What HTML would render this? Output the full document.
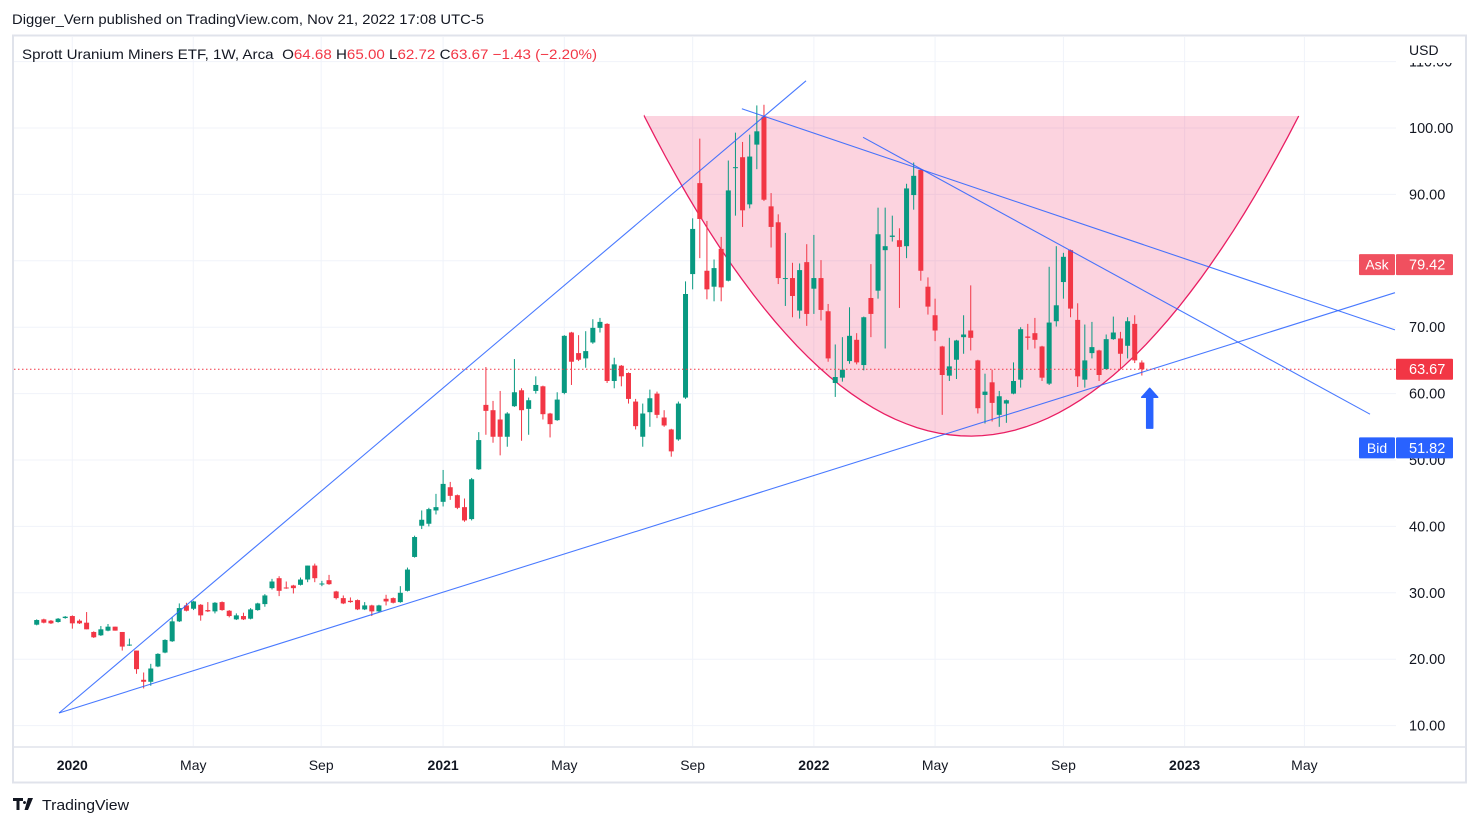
<!DOCTYPE html>
<html><head><meta charset="utf-8"><style>
body{margin:0;background:#fff;}
svg{display:block;font-family:"Liberation Sans",sans-serif;}
</style></head><body>
<svg id="c" width="1479" height="826" viewBox="0 0 1479 826">
<text x="12" y="24" font-size="14" fill="#131722" textLength="472" lengthAdjust="spacingAndGlyphs">Digger_Vern published on TradingView.com, Nov 21, 2022 17:08 UTC-5</text>
<rect x="13" y="35.5" width="1453" height="747" fill="none" stroke="#e0e3eb" stroke-width="2"/>
<line x1="13" y1="747" x2="1466" y2="747" stroke="#e0e3eb" stroke-width="1.5"/>
<g id="grid"></g>
<g id="shapes"></g>
<g id="candles"></g>
<g id="lines"></g>
<g id="axes"></g>
<text x="22" y="59" font-size="14" textLength="575" lengthAdjust="spacingAndGlyphs"><tspan fill="#131722">Sprott Uranium Miners ETF, 1W, Arca </tspan><tspan fill="#131722" dx="4">O</tspan><tspan fill="#f23645">64.68 </tspan><tspan fill="#131722">H</tspan><tspan fill="#f23645">65.00 </tspan><tspan fill="#131722">L</tspan><tspan fill="#f23645">62.72 </tspan><tspan fill="#131722">C</tspan><tspan fill="#f23645">63.67 −1.43 (−2.20%)</tspan></text>
<g>
<path d="M13 798h10v3h-3.5v9h-3v-9h-3.5z M24.5 801a1.5 1.5 0 1 0 0.01 0z M28 798h5l-5 12h-3.5z" fill="#131722"/>
<text x="42" y="810" font-size="15" fill="#131722" textLength="87" lengthAdjust="spacingAndGlyphs">TradingView</text>
</g>
</svg>
<script>
const O=[25.2,26.0,25.8,25.6,26.2,26.5,25.8,25.5,24.1,23.6,24.3,24.9,24.1,22.1,21.3,16.9,16.6,18.9,21.0,22.7,25.7,28.1,27.6,28.2,27.4,27.2,28.6,27.3,26.0,26.5,26.1,27.4,28.3,30.7,32.2,30.8,31.1,31.2,32.0,34.1,31.3,31.9,30.2,29.2,28.8,28.9,27.5,28.1,27.2,29.1,29.2,28.6,30.3,35.4,40.1,40.4,42.4,43.7,45.9,44.7,42.9,41.1,48.6,58.3,57.5,56.1,53.5,58.1,60.5,57.7,60.4,61.1,57.0,56.0,60.1,69.2,66.1,65.3,67.7,69.9,70.5,61.9,64.2,63.1,58.8,53.5,57.2,60.0,56.4,54.6,53.1,59.4,78.0,91.7,78.5,76.1,81.8,77.0,94.0,95.6,88.5,97.5,101.7,88.2,85.8,77.3,77.4,72.5,79.8,75.8,77.4,72.4,61.6,62.4,64.9,68.1,64.3,74.4,75.5,81.6,83.6,83.1,82.2,89.9,93.7,76.1,71.8,67.1,62.7,65.1,68.5,69.5,65.0,59.8,61.7,56.8,58.5,60.0,62.1,68.6,69.1,67.1,61.5,70.9,76.8,81.6,71.1,62.1,66.1,66.5,63.7,68.2,68.3,67.2,70.5,64.68];
const H=[26.0,26.1,25.9,26.2,26.5,26.6,26.0,27.1,24.2,25.0,25.3,24.9,24.1,23.1,21.3,18.0,19.3,20.9,23.0,26.3,28.4,28.5,28.8,28.3,28.6,28.6,28.7,27.4,26.9,27.0,27.7,28.5,29.8,32.1,32.5,31.7,31.2,32.3,34.1,34.4,31.8,32.7,30.3,29.6,29.3,29.0,28.6,28.2,28.2,29.7,29.3,31.0,33.8,38.6,42.4,42.8,44.9,48.5,46.7,44.8,44.2,47.3,54.2,64.0,58.9,60.4,57.2,65.2,60.8,59.4,62.6,61.2,57.1,60.2,68.8,69.3,68.8,69.4,71.2,71.4,70.6,65.4,64.3,63.2,59.2,58.5,60.6,60.3,57.5,54.7,58.8,76.9,86.4,98.4,86.0,80.2,83.6,95.1,99.3,97.9,99.0,103.4,103.5,90.2,87.0,84.2,79.7,79.6,82.5,83.9,80.1,73.5,67.4,68.5,73.0,69.1,71.6,79.5,88.0,88.0,86.8,84.9,91.6,94.8,93.8,77.5,74.3,67.2,68.4,68.1,71.8,76.3,65.1,63.0,63.6,60.4,59.1,64.7,70.0,70.5,71.4,67.2,79.1,82.2,81.2,81.7,73.6,70.4,70.8,66.6,68.9,71.6,69.3,71.5,71.8,65.00];
const L=[25.1,25.4,25.3,25.5,26.1,24.6,25.3,24.5,23.2,23.5,24.2,24.3,21.3,22.0,17.8,15.6,16.0,18.8,20.9,22.6,25.6,27.2,27.4,25.8,27.1,26.9,27.3,26.3,25.9,25.9,26.0,27.3,27.9,30.5,29.5,30.6,29.9,31.1,31.6,31.6,31.0,31.2,29.0,28.3,28.5,27.4,27.4,26.5,27.1,28.1,28.4,28.5,30.2,35.3,39.6,40.0,41.8,43.0,44.0,42.6,40.7,40.9,48.5,53.8,52.6,50.7,52.0,58.0,52.9,53.8,60.0,56.1,53.4,55.9,59.9,61.3,64.9,63.9,67.5,69.2,61.6,60.8,61.1,58.5,54.6,52.0,55.0,56.3,55.0,50.5,52.9,59.2,75.7,80.4,74.2,73.9,73.9,76.9,86.8,85.1,87.9,93.8,89.0,82.0,76.5,73.2,71.5,71.3,70.2,72.0,71.0,64.8,59.5,61.8,64.5,64.4,63.5,68.5,74.3,66.8,82.9,72.9,80.4,87.7,77.0,71.9,67.9,56.8,61.9,62.2,66.0,66.5,57.0,55.5,55.8,55.0,55.6,59.9,60.9,66.6,66.8,61.9,61.3,70.1,74.3,71.5,61.0,60.9,65.3,61.9,63.6,68.1,63.7,65.3,64.6,62.72];
const C=[25.9,25.5,25.4,26.1,26.4,25.4,25.4,24.5,23.3,24.5,24.9,24.3,21.9,22.2,18.5,16.6,18.6,20.8,22.9,25.7,27.7,27.3,28.7,26.6,27.2,28.5,27.4,26.5,26.6,26.0,27.5,28.4,29.6,31.7,30.3,30.7,30.7,32.0,34.1,32.2,31.4,31.3,29.2,28.4,28.6,27.5,28.1,27.2,28.1,28.7,28.5,30.0,33.5,38.4,41.0,42.6,42.9,46.4,44.6,42.8,40.9,47.1,53.0,57.4,53.5,53.5,57.0,60.2,57.5,59.0,61.3,56.9,55.4,59.1,68.7,64.8,65.1,66.4,69.9,70.8,61.9,64.4,62.6,59.2,55.1,57.0,59.3,56.8,55.2,51.3,58.5,75.0,84.8,86.3,75.7,78.9,76.0,90.6,94.1,87.6,95.7,99.5,89.2,85.1,77.4,77.4,74.7,78.6,72.0,77.4,72.6,65.3,62.5,63.6,68.7,64.7,71.5,72.0,84.0,82.2,83.8,82.1,90.9,92.8,78.5,73.1,69.5,62.8,64.1,68.0,68.9,68.4,57.8,60.3,58.6,59.6,59.0,61.9,69.7,68.4,68.1,62.4,70.7,73.3,80.6,72.8,62.6,65.0,67.0,62.8,68.2,69.2,66.0,70.9,65.0,63.67];
const priceTicks=[110,100,90,80,70,60,50,40,30,20,10];
const timeLabels=["2020","May","Sep","2021","May","Sep","2022","May","Sep","2023","May"];
const timeIdx=[4.99,21.96,39.9,57.0,74.0,92.0,109.0,126.0,144.0,161.0,177.8];
const lastPrice=63.67, askPrice=79.42, bidPrice=51.82;
// drawings in (bar index, price)
const upLineA=[3.13,11.9], upLineB=[107.9,107.1];
const supLineA=[3.13,11.9], supLineB=[190.5,75.2];
const resLineA=[98.9,102.9], resLineB=[190.5,69.6];
const res2LineA=[115.9,98.6], res2LineB=[187.0,56.9];
const cupLeft=[85.2,101.8], cupVertex=[130.9,53.6], cupRight=[177.0,101.8];
const arrowAt=[156.1,60.8,54.8];

const ns="http://www.w3.org/2000/svg";
const X=i=>36.7+7.13*i;
const Y=p=>128+(100-p)*6.64;
function mk(parent,tag,attrs){const e=document.createElementNS(ns,tag);for(const k in attrs)e.setAttribute(k,attrs[k]);document.getElementById(parent).appendChild(e);return e;}

priceTicks.forEach(p=>{const y=Y(p);if(y<40||y>745)return;
 const g=mk('grid','line',{x1:14,x2:1396,y1:y,y2:y,stroke:'#f0f3fa','stroke-width':1});
 
 });
timeIdx.forEach(t=>{const x=X(t);
 const g=mk('grid','line',{x1:x,x2:x,y1:37,y2:746,stroke:'#f0f3fa','stroke-width':1});
 
 });

{const [l0,l1]=[X(cupLeft[0]),Y(cupLeft[1])],[v0,v1]=[X(cupVertex[0]),Y(cupVertex[1])],[r0,r1]=[X(cupRight[0]),Y(cupRight[1])];
 let d='M'+l0+' '+l1;
 for(let k=0;k<=60;k++){const x=l0+(r0-l0)*k/60;const a=(l1-v1)/((l0-v0)*(l0-v0));const b=(r1-v1)/((r0-v0)*(r0-v0));const y=v1+(x<v0?a:b)*(x-v0)*(x-v0);d+=' L'+x.toFixed(1)+' '+y.toFixed(1);}
 const f=mk('shapes','path',{d:d+' Z',fill:'rgba(242,54,110,0.22)',stroke:'none'});
 
 
 const s=mk('shapes','path',{d:d,fill:'none',stroke:'#e91e63','stroke-width':1.3});
 
 }

for(let i=0;i<O.length;i++){const up=C[i]>=O[i];const col=up?'#089981':'#f23645';const x=X(i);
 const w=mk('candles','line',{x1:x,x2:x,y1:Y(H[i]),y2:Y(L[i]),stroke:col,'stroke-width':1});
 
 
 const top=Y(Math.max(O[i],C[i])),bot=Y(Math.min(O[i],C[i]));
 const b=mk('candles','rect',{x:x-2.5,y:top,width:5,height:Math.max(1,bot-top),fill:col});
 
 }

[[upLineA,upLineB,'upper-trend-line'],[supLineA,supLineB,'support-trend-line'],[resLineA,resLineB,'resistance-line'],[res2LineA,res2LineB,'resistance-line-2']].forEach(([a,b,n])=>{
 const l=mk('lines','line',{x1:X(a[0]),y1:Y(a[1]),x2:X(b[0]),y2:Y(b[1]),stroke:'#2962ff','stroke-width':1.1,opacity:0.85});
 
 });
{const l=mk('lines','line',{x1:14,x2:1396,y1:Y(lastPrice),y2:Y(lastPrice),stroke:'#f23645','stroke-width':1,'stroke-dasharray':'1.5 2.5'});
 
 }
{const x=X(arrowAt[0]),t=Y(arrowAt[1]),bt=Y(arrowAt[2]);
 const a=mk('lines','path',{d:`M${x} ${t} L${x+8} ${t+9} L${x+3} ${t+9} L${x+3} ${bt} L${x-3} ${bt} L${x-3} ${t+9} L${x-8} ${t+9} Z`,fill:'#2962ff',stroke:'#2962ff','stroke-linejoin':'round','stroke-width':1.5});
 
 }

priceTicks.forEach(p=>{const t=mk('axes','text',{x:1409,y:Y(p)+5,'font-size':14.5,fill:'#131722'});t.textContent=p.toFixed(2);
 
 });
{const r=mk('axes','rect',{x:1398,y:37,width:66,height:26,fill:'#fff'});
 
 
 const u=mk('axes','text',{x:1409,y:55,'font-size':14,fill:'#131722'});u.textContent='USD';
 
 }
timeLabels.forEach((s,k)=>{const bold=/^\d/.test(s);const t=mk('axes','text',{x:X(timeIdx[k]),y:770,'font-size':14,fill:'#131722','text-anchor':'middle','font-weight':bold?'bold':'normal'});t.textContent=s;
 
 });
function tag(price,col,label,name){const y=Y(price);
 if(label){const r=mk('axes','rect',{x:1359,y:y-10.5,width:36,height:21,fill:col,rx:1});
  const t=mk('axes','text',{x:1377,y:y+5,'font-size':14,fill:'#fff','text-anchor':'middle'});t.textContent=label;}
 const r2=mk('axes','rect',{x:1396,y:y-10.5,width:57,height:21,fill:col,rx:1});
 const t2=mk('axes','text',{x:1409,y:y+5,'font-size':14.5,fill:'#fff'});t2.textContent=price.toFixed(2);}
tag(askPrice,'#f0505f','Ask','ask');
tag(lastPrice,'#f23645',null,'last-price');
tag(bidPrice,'#2962ff','Bid','bid');
</script>
</body></html>
